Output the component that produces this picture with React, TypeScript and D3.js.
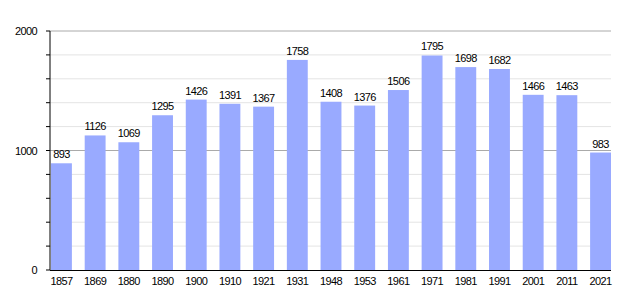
import React from "react";
import * as d3 from "d3";

const years = ["1857","1869","1880","1890","1900","1910","1921","1931","1948","1953","1961","1971","1981","1991","2001","2011","2021"];
const population = [893,1126,1069,1295,1426,1391,1367,1758,1408,1376,1506,1795,1698,1682,1466,1463,983];
const yTicks = [0, 1000, 2000];

export default function App() {
  const W = 640, H = 300;
  const left = 50, right = 611, top = 31, bottom = 270;
  const x = d3.scaleBand<string>().domain(years).range([left + 1, right]).paddingInner(0.38).paddingOuter(0);
  const y = d3.scaleLinear().domain([0, 2000]).range([bottom, top]);
  const minor = d3.range(200, 2001, 200).filter(v => v % 1000 !== 0);
  const all = d3.range(0, 2001, 200);
  const font = "'Liberation Sans', Arial, sans-serif";
  const ls = -0.6;
  return (
    <svg width={W} height={H} style={{ position: "absolute", left: 0, top: 0, background: "#fff" }} fontFamily={font}>
      {minor.map(v => (
        <line key={"m" + v} x1={left} x2={right} y1={y(v)} y2={y(v)} stroke="#e4e4e4" strokeWidth={1} />
      ))}
      {[1000, 2000].map(v => (
        <line key={"M" + v} x1={left} x2={right} y1={y(v)} y2={y(v)} stroke="#aaaaaa" strokeWidth={1} />
      ))}
      {years.map((yr, i) => (
        <rect key={yr} x={x(yr)} y={y(population[i])} width={x.bandwidth()} height={bottom - y(population[i])} fill="#99aaff" />
      ))}
      {years.map((yr, i) => (
        <text key={"l" + yr} x={(x(yr) as number) + x.bandwidth() / 2} y={y(population[i]) - 5} fontSize={11} letterSpacing={ls} textAnchor="middle" fill="#000">{population[i]}</text>
      ))}
      {years.map(yr => (
        <text key={"x" + yr} x={(x(yr) as number) + x.bandwidth() / 2} y={bottom + 15} fontSize={11} letterSpacing={ls} textAnchor="middle" fill="#000">{yr}</text>
      ))}
      <line x1={left} x2={left} y1={top} y2={bottom} stroke="#000" strokeWidth={1} />
      <line x1={left} x2={right} y1={bottom + 0.5} y2={bottom + 0.5} stroke="#000" strokeWidth={1} />
      {all.map(v => (
        <line key={"t" + v} x1={left - 4} x2={left} y1={y(v)} y2={y(v)} stroke="#000" strokeWidth={1} />
      ))}
      {yTicks.map(v => (
        <text key={"y" + v} x={37} y={y(v) + 4} fontSize={11} letterSpacing={ls} textAnchor="end" fill="#000">{v}</text>
      ))}
    </svg>
  );
}
